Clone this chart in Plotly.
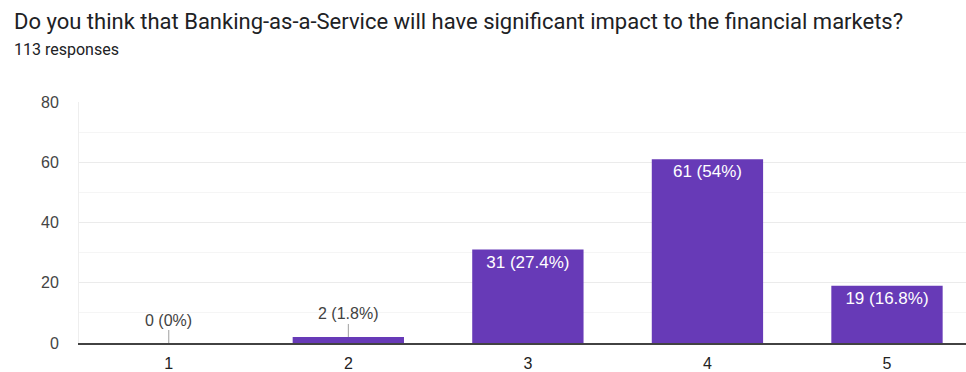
import plotly.graph_objects as go

categories = [1, 2, 3, 4, 5]
counts = [0, 2, 31, 61, 19]
percents = ["0%", "1.8%", "27.4%", "54%", "16.8%"]
y_ticks = [0, 20, 40, 60, 80]
title_text = "Do you think that Banking-as-a-Service will have significant impact to the financial markets?"
subtitle_text = "113 responses"

labels = [f"{c} ({p})" for c, p in zip(counts, percents)]
inside_threshold = 10
inside_text = [l if c >= inside_threshold else "" for l, c in zip(labels, counts)]

W, H = 966, 372
ML, MR, MT, MB = 79, 0, 102, 26

fig = go.Figure()
fig.add_trace(go.Bar(
    x=categories, y=counts, width=0.62,
    marker=dict(color="#673AB7", line=dict(width=0)),
    text=inside_text, textposition="inside", insidetextanchor="end",
    textfont=dict(color="white", size=17, family="Liberation Sans, Arial"),
    cliponaxis=False, hoverinfo="skip",
))

annotations = []
for c, n, l in zip(categories, counts, labels):
    if n < inside_threshold:
        annotations.append(dict(
            x=c, y=n, xref="x", yref="y", text=l, showarrow=True,
            arrowhead=0, arrowwidth=1, arrowcolor="#9e9e9e", ax=0, ay=-23,
            font=dict(size=16, color="#424242", family="Liberation Sans, Arial"),
        ))

plot_h = H - MT - MB
plot_w = W - ML - MR
annotations.append(dict(
    x=(12 - ML) / plot_w, y=(H - MB - 20) / plot_h, xref="paper", yref="paper",
    xanchor="left", yanchor="middle", text=title_text, showarrow=False,
    font=dict(size=22, color="#202124", family="Roboto"),
))
annotations.append(dict(
    x=(12 - ML) / plot_w, y=(H - MB - 49) / plot_h, xref="paper", yref="paper",
    xanchor="left", yanchor="middle", text=subtitle_text, showarrow=False,
    font=dict(size=16, color="#202124", family="Roboto"),
))

fig.update_layout(
    width=W, height=H,
    margin=dict(l=ML, r=MR, t=MT, b=MB, pad=0),
    paper_bgcolor="white", plot_bgcolor="white",
    showlegend=False, bargap=0.38,
    annotations=annotations,
    font=dict(family="Liberation Sans, Arial", color="#444444"),
)
fig.update_xaxes(
    range=[0.5, 5.44], tickvals=categories, ticktext=[str(c) for c in categories],
    showgrid=False, zeroline=False, showline=True, linecolor="#424242", linewidth=2,
    ticks="", tickfont=dict(size=16, color="#222222"), ticklabelstandoff=5,
)
fig.update_yaxes(
    range=[0, 80], tickvals=y_ticks, showgrid=True, gridcolor="#ebebeb", gridwidth=1,
    minor=dict(dtick=10, showgrid=True, gridcolor="#f5f5f5", gridwidth=1),
    zeroline=False, showline=True, linecolor="#eeeeee", linewidth=1,
    ticks="", tickfont=dict(size=16, color="#444444"), ticklabelstandoff=16,
)

fig.write_html("out.html")
